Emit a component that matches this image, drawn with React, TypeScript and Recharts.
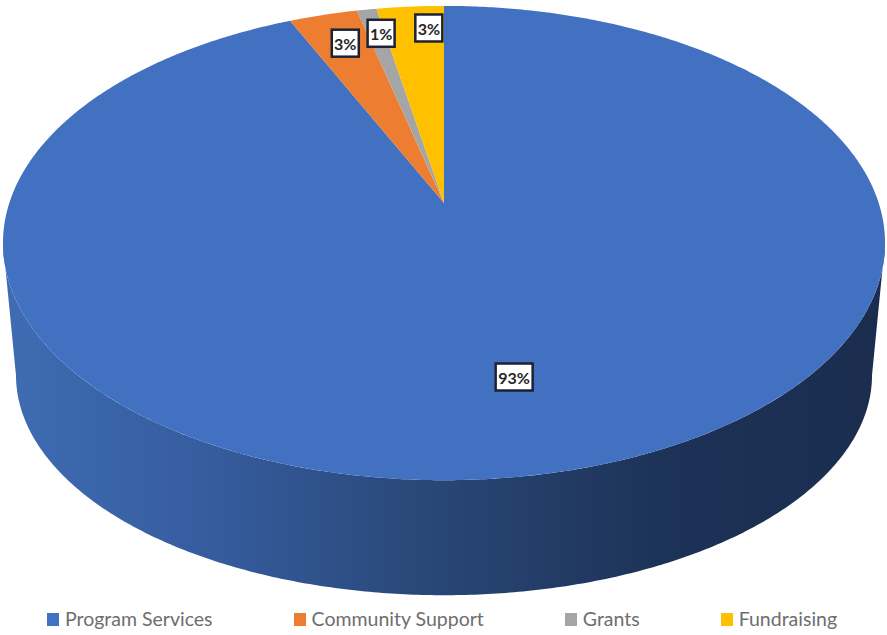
import { PieChart, Pie, Legend } from "recharts";

const categories = ["Program Services", "Community Support", "Grants", "Fundraising"];
const shares = [93.3, 2.95, 0.85, 2.9];
const sliceColors = ["#4371c1", "#ed7d31", "#a5a5a5", "#ffc000"];
const wallValues = [1];

const data = categories.map((name, i) => ({ name, value: shares[i], fill: sliceColors[i] }));
const wallData = wallValues.map((value) => ({ name: "wall", value, fill: "url(#wallFill)" }));

// perspective of the disc: how much it is squashed and how fast the far side shrinks
const SQUASH = 0.53;
const FAR = 0.1688;
// lower rim of the wall relative to the top rim
const WALL_X = 0.9705;
const WALL_Y = 0.928;
const WALL_DROP = 135;

// label placement on the disc, as a share of the radius, plus a small sideways nudge
const labelRadius = [0.685, 0.83, 0.86, 0.875];
const labelNudge = [0, 4, 5, 15];

const RAD = Math.PI / 180;

function project(cx: number, cy: number, r: number, angle: number, frac = 1, sx = 1, sy = 1, drop = 0) {
  const u = Math.cos(angle * RAD) * frac;
  const v = Math.sin(angle * RAD) * frac;
  const w = 1 + FAR * v;
  return {
    x: cx + (r * sx * u) / w,
    y: cy + drop - (r * SQUASH * sy * v) / w,
  };
}

function arcPoints(from: number, to: number, fn: (a: number) => { x: number; y: number }) {
  const steps = Math.max(2, Math.ceil(Math.abs(to - from) * 2));
  const out: string[] = [];
  for (let i = 0; i <= steps; i++) {
    const p = fn(from + ((to - from) * i) / steps);
    out.push(`${p.x.toFixed(2)} ${p.y.toFixed(2)}`);
  }
  return out;
}

function TopSlice(props: any) {
  const { cx, cy, outerRadius, startAngle, endAngle, fill } = props;
  const pts = arcPoints(startAngle, endAngle, (a) => project(cx, cy, outerRadius, a));
  return <path d={`M${cx} ${cy} L${pts.join(" L")} Z`} fill={fill} stroke="none" />;
}

function WallShape(props: any) {
  const { cx, cy, outerRadius, fill } = props;
  const edge = Math.asin(FAR) / RAD;
  const top = arcPoints(-edge, -180 + edge, (a) => project(cx, cy, outerRadius, a));
  const bottom = arcPoints(-180 + edge, -edge, (a) =>
    project(cx, cy, outerRadius, a, 1, WALL_X, WALL_Y, WALL_DROP)
  );
  return <path d={`M${top.concat(bottom).join(" L")} Z`} fill={fill} stroke="none" />;
}

function SliceLabel(props: any) {
  const { cx, cy, outerRadius, midAngle, percent, index } = props;
  const p = project(cx, cy, outerRadius, midAngle, labelRadius[index]);
  const x = p.x + labelNudge[index];
  const text = `${Math.round(percent * 100)}%`;
  const w = text.length > 2 ? 37 : 27;
  return (
    <g>
      <rect x={x - w / 2} y={p.y - 13.5} width={w} height={27} fill="#ffffff" stroke="#1c2233" strokeWidth={2.5} />
      <text
        x={x}
        y={p.y + 0.5}
        textAnchor="middle"
        dominantBaseline="central"
        fontFamily="Lato"
        fontWeight={700}
        fontSize={16}
        fill="#262626"
      >
        {text}
      </text>
    </g>
  );
}

function LegendRow({ payload }: any) {
  const items = categories.map((name) => (payload || []).find((p: any) => p.value === name)).filter(Boolean);
  return (
    <div style={{ display: "flex", gap: 81, paddingLeft: 47 }}>
      {items.map((item: any) => (
        <div key={item.value} style={{ display: "flex", alignItems: "center", gap: 6 }}>
          <span style={{ width: 12, height: 13, background: item.color || item.payload?.fill, display: "inline-block" }} />
          <span style={{ fontFamily: "Lato", fontSize: 19.5, color: "#6e6e6e", lineHeight: "24px" }}>{item.value}</span>
        </div>
      ))}
    </div>
  );
}

export default function App() {
  return (
    <div style={{ position: "absolute", left: 0, top: 0, width: 887, height: 635, background: "#ffffff" }}>
      <PieChart width={887} height={635} margin={{ top: 0, right: 0, bottom: 0, left: 0 }}>
        <defs>
          <linearGradient id="wallFill" gradientUnits="userSpaceOnUse" x1="3" y1="0" x2="885" y2="0">
            <stop offset="0" stopColor="#3f6cb4" />
            <stop offset="0.25" stopColor="#355b9c" />
            <stop offset="0.5" stopColor="#284674" />
            <stop offset="0.75" stopColor="#1d3257" />
            <stop offset="1" stopColor="#1a2d4f" />
          </linearGradient>
        </defs>
        <Pie
          data={wallData}
          dataKey="value"
          nameKey="name"
          cx={444}
          cy={203}
          outerRadius={434.7}
          startAngle={90}
          endAngle={-270}
          stroke="none"
          legendType="none"
          shape={WallShape}
          isAnimationActive={false}
        />
        <Pie
          data={data}
          dataKey="value"
          nameKey="name"
          cx={444}
          cy={203}
          outerRadius={434.7}
          startAngle={90}
          endAngle={-270}
          stroke="none"
          shape={TopSlice}
          label={SliceLabel}
          labelLine={false}
          isAnimationActive={false}
        />
        <Legend verticalAlign="bottom" wrapperStyle={{ left: 0, bottom: 4, width: 887 }} content={<LegendRow />} />
      </PieChart>
    </div>
  );
}
